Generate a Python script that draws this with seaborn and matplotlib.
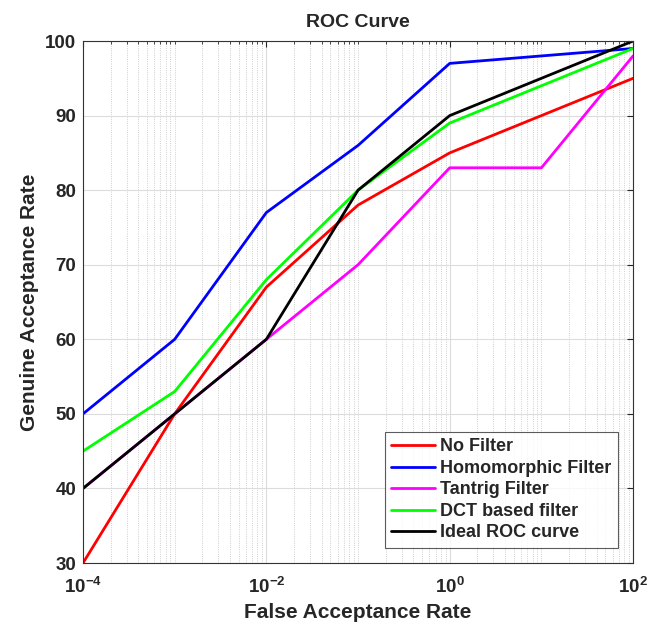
import numpy as np
import pandas as pd
import seaborn as sns
import matplotlib
matplotlib.use("Agg")
import matplotlib.pyplot as plt
from matplotlib.ticker import LogLocator, FixedLocator, NullFormatter

far = [1e-4, 1e-3, 1e-2, 1e-1, 1e0, 1e1, 1e2]
no_filter = [30, 50, 67, 78, 85, 90, 95]
homomorphic = [50, 60, 77, 86, 97, 98, 99]
tantrig = [40, 50, 60, 70, 83, 83, 98]
dct = [45, 53, 68, 80, 89, 94, 99]
ideal = [40, 50, 60, 80, 90, 95, 100]

names = ["No Filter", "Homomorphic Filter", "Tantrig Filter", "DCT based filter", "Ideal ROC curve"]
series = [no_filter, homomorphic, tantrig, dct, ideal]
colors = ["#ff0000", "#0000ff", "#ff00ff", "#00ff00", "#000000"]

rows = []
for n, s in zip(names, series):
    for x, y in zip(far, s):
        rows.append({"FAR": x, "GAR": y, "Method": n})
df = pd.DataFrame(rows)

sns.set_style("white")
plt.rcParams['font.family'] = ['Liberation Sans', 'DejaVu Sans']
plt.rcParams['mathtext.fontset'] = 'custom'
plt.rcParams['mathtext.rm'] = 'Liberation Sans:bold'
plt.rcParams['mathtext.bf'] = 'Liberation Sans:bold'

fig = plt.figure(figsize=(6.51, 6.30), dpi=100)
ax = fig.add_axes([0.1275, 0.1063, 0.845, 0.8286])

sns.lineplot(data=df, x="FAR", y="GAR", hue="Method", hue_order=names,
             palette=dict(zip(names, colors)), linewidth=2, ax=ax,
             estimator=None, sort=False)

ax.set_xscale("log")
ax.set_xlim(1e-4, 1e2)
ax.set_ylim(30, 100)
ax.xaxis.set_major_locator(FixedLocator([1e-4, 1e-2, 1e0, 1e2]))
ax.xaxis.set_minor_locator(LogLocator(base=10, subs=np.arange(1, 10), numticks=50))
ax.xaxis.set_minor_formatter(NullFormatter())
ax.set_yticks(np.arange(30, 101, 10))

ax.grid(True, which="major", color="#dcdcdc", linewidth=0.8, linestyle="-")
ax.grid(True, which="minor", axis="x", color="#c0c0c0", linewidth=0.6, linestyle=":")
ax.set_axisbelow(True)

for sp in ax.spines.values():
    sp.set_color("#333333")
    sp.set_linewidth(0.8)

ax.tick_params(axis="both", which="both", direction="in", top=True, right=True)
ax.tick_params(axis="both", which="major", labelsize=13.5, length=4)
ax.tick_params(axis="x", which="major", pad=10)
ax.tick_params(axis="y", which="major", pad=5)
ax.tick_params(axis="both", which="minor", length=2)
for lab in ax.get_xticklabels() + ax.get_yticklabels():
    lab.set_fontweight("bold")

ax.set_xlabel("False Acceptance Rate", fontsize=15, fontweight="bold")
ax.set_ylabel("Genuine Acceptance Rate", fontsize=15, fontweight="bold")
ax.set_title("ROC Curve", fontsize=14, fontweight="bold", pad=10)

leg = ax.legend(loc="lower right", fontsize=13, frameon=True, fancybox=False,
                borderaxespad=0.85, handlelength=2.4, handletextpad=0.3,
                labelspacing=0.25, borderpad=0.35)
leg.get_frame().set_edgecolor("#333333")
leg.get_frame().set_linewidth(0.8)
for t in leg.get_texts():
    t.set_fontweight("bold")

fig.savefig("out.png", dpi=100)
